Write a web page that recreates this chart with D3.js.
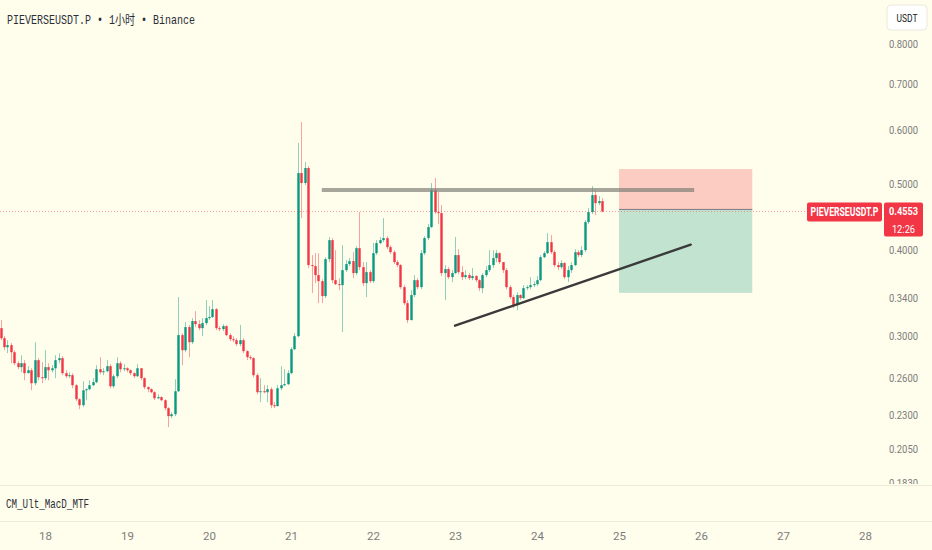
<!DOCTYPE html>
<html>
<head>
<meta charset="utf-8">
<script src="https://cdn.jsdelivr.net/npm/d3@7"></script>
<style>
  html, body { margin: 0; padding: 0; background: #fffdeb; }
  svg { display: block; }
</style>
</head>
<body>
<svg id="chart" width="932" height="550"></svg>
<script>
// 1h candles, first bar is the 17th 11:00, one bar per hour after that
const firstOpen = 0.3075;
const closes = [
  0.2973,0.2884,0.2904,0.2836,0.2733,0.2697,0.2733,0.2643,0.2669,0.2555,
  0.2761,0.2607,0.2599,0.2697,0.2669,0.2687,0.2761,0.2780,0.2643,0.2616,
  0.2625,0.2538,0.2421,0.2373,0.2495,0.2504,0.2538,0.2564,0.2678,0.2651,
  0.2660,0.2706,0.2529,0.2616,0.2733,0.2678,0.2687,0.2669,0.2643,0.2616,
  0.2687,0.2599,0.2521,0.2504,0.2479,0.2429,0.2438,0.2413,0.2349,0.2287,
  0.2302,0.2487,0.3004,0.2855,0.3086,0.2933,0.3149,0.3117,0.3075,0.3128,
  0.3181,0.3192,0.3278,0.3075,0.3065,0.3096,0.3004,0.2963,0.2953,0.2914,
  0.2953,0.2846,0.2789,0.2780,0.2625,0.2479,0.2487,0.2479,0.2504,0.2373,
  0.2365,0.2512,0.2538,0.2547,0.2643,0.2865,0.2993,0.5182,0.5011,0.5270,
  0.3802,0.3789,0.3676,0.3602,0.3425,0.3879,0.4135,0.3614,0.3566,0.3554,
  0.3738,0.3815,0.3853,0.3701,0.4025,0.3776,0.3578,0.3713,0.3602,0.3958,
  0.4094,0.4135,0.4163,0.4039,0.3971,0.3840,0.3802,0.3530,0.3345,0.3159,
  0.3437,0.3614,0.3530,0.3958,0.4163,0.4321,0.4893,0.4544,0.4529,0.3701,
  0.3751,0.3651,0.3701,0.3932,0.3713,0.3651,0.3676,0.3639,0.3664,0.3614,
  0.3518,0.3676,0.3738,0.3802,0.3892,0.3958,0.3840,0.3738,0.3530,0.3414,
  0.3323,0.3437,0.3402,0.3518,0.3530,0.3554,0.3566,0.3614,0.3905,0.3958,
  0.4107,0.3971,0.3802,0.3776,0.3828,0.3651,0.3738,0.3802,0.3971,0.3932,
  0.3998,0.4394,0.4544,0.4812,0.4684,0.4715,0.4553
];
const highs = [
  0.3159,0.2993,0.2953,0.2924,0.2855,0.2752,0.2808,0.2761,0.2706,0.2687,
  0.2933,0.2780,0.2743,0.2855,0.2733,0.2715,0.2808,0.2827,0.2799,0.2669,
  0.2651,0.2643,0.2547,0.2429,0.2572,0.2512,0.2581,0.2599,0.2715,0.2789,
  0.2687,0.2761,0.2724,0.2634,0.2789,0.2752,0.2724,0.2697,0.2678,0.2651,
  0.2724,0.2687,0.2607,0.2529,0.2512,0.2487,0.2462,0.2446,0.2421,0.2357,
  0.2318,0.2590,0.3414,0.3024,0.3138,0.3107,0.3181,0.3256,0.3159,0.3181,
  0.3379,0.3312,0.3379,0.3289,0.3096,0.3117,0.3107,0.3024,0.2993,0.2973,
  0.3107,0.2973,0.2855,0.2808,0.2789,0.2643,0.2599,0.2538,0.2538,0.2521,
  0.2397,0.2538,0.2706,0.2678,0.2669,0.2884,0.3024,0.5733,0.6153,0.5377,
  0.5306,0.3932,0.3958,0.3958,0.3626,0.3905,0.4178,0.4163,0.3998,0.3639,
  0.4066,0.3866,0.3892,0.3971,0.4052,0.4544,0.3840,0.3840,0.3738,0.4094,
  0.4135,0.4178,0.4453,0.4192,0.4066,0.3998,0.3866,0.3815,0.3554,0.3379,
  0.3494,0.3676,0.3639,0.3998,0.4192,0.4365,0.5011,0.5096,0.4861,0.4652,
  0.3802,0.3776,0.3738,0.4178,0.4012,0.3789,0.3738,0.3701,0.3764,0.3676,
  0.3626,0.3701,0.3789,0.3998,0.3998,0.3998,0.3971,0.3840,0.3764,0.3554,
  0.3437,0.3471,0.3448,0.3554,0.3554,0.3651,0.3602,0.3664,0.3932,0.3985,
  0.4234,0.4206,0.3998,0.3840,0.3866,0.3840,0.3789,0.3840,0.4012,0.3998,
  0.4052,0.4423,0.4605,0.4960,0.4893,0.4796,0.4763
];
const lows = [
  0.2953,0.2855,0.2827,0.2733,0.2715,0.2678,0.2651,0.2581,0.2643,0.2495,
  0.2538,0.2581,0.2555,0.2581,0.2581,0.2651,0.2599,0.2733,0.2625,0.2599,
  0.2599,0.2512,0.2405,0.2341,0.2357,0.2413,0.2495,0.2529,0.2555,0.2634,
  0.2625,0.2651,0.2512,0.2512,0.2599,0.2651,0.2660,0.2651,0.2625,0.2599,
  0.2607,0.2581,0.2504,0.2479,0.2470,0.2413,0.2421,0.2405,0.2333,0.2204,
  0.2271,0.2287,0.2479,0.2715,0.2836,0.2789,0.2914,0.3086,0.3054,0.2993,
  0.3107,0.3159,0.3181,0.3054,0.3044,0.3044,0.2993,0.2943,0.2933,0.2894,
  0.2894,0.2827,0.2761,0.2761,0.2607,0.2462,0.2397,0.2470,0.2397,0.2349,
  0.2349,0.2365,0.2495,0.2529,0.2538,0.2634,0.2855,0.2983,0.4453,0.4977,
  0.3764,0.3460,0.3578,0.3345,0.3345,0.3402,0.3840,0.3578,0.3554,0.3494,
  0.3034,0.3713,0.3789,0.3639,0.3676,0.3738,0.3542,0.3414,0.3578,0.3578,
  0.3932,0.4080,0.4107,0.4012,0.3945,0.3815,0.3776,0.3506,0.3323,0.3128,
  0.3159,0.3414,0.3506,0.3506,0.3932,0.4135,0.4306,0.4514,0.4365,0.3664,
  0.3379,0.3626,0.3590,0.3688,0.3688,0.3614,0.3626,0.3614,0.3614,0.3590,
  0.3483,0.3460,0.3651,0.3713,0.3764,0.3840,0.3815,0.3701,0.3506,0.3391,
  0.3289,0.3267,0.3379,0.3391,0.3494,0.3506,0.3530,0.3542,0.3602,0.3892,
  0.3945,0.3945,0.3776,0.3738,0.3751,0.3626,0.3590,0.3701,0.3789,0.3905,
  0.3905,0.3971,0.4365,0.4514,0.4499,0.4652,0.4540
];

const dayTicks = [18, 19, 20, 21, 22, 23, 24, 25, 26, 27, 28];
const priceTicks = [0.8, 0.7, 0.6, 0.5, 0.4, 0.34, 0.3, 0.26, 0.23, 0.205, 0.183];
const lastPrice = 0.4553;
const countdown = "12:26";

// drawings: [day, hour]
const resistPrice = 0.4893;
const resistFrom = [21, 9], resistTo = [25, 22];
const trendFrom = [23, 0, 0.3101], trendTo = [25, 21, 0.4073];
const boxFrom = [25, 0], boxTo = [26, 15];
const boxStop = 0.5252, boxEntry = 0.4585, boxTarget = 0.3463;

const upColor = "#089981", downColor = "#f23645";
const W = 932, H = 550, plotRight = 880, paneBottom = 485, indBottom = 521;
const axisFont = "'Liberation Sans Narrow', 'Roboto', sans-serif";

const day = (d, h) => new Date(Date.UTC(2025, 0, d, h || 0));
const firstBar = day(17, 11);

let x = d3.scaleUtc().domain([day(18), day(28)]).range([45, 865]);
let y = d3.scaleLog().domain([0.8, 0.4]).range([44, 250]);

let bars = closes.map((c, i) => ({
  t: d3.utcHour.offset(firstBar, i),
  o: i == 0 ? firstOpen : closes[i - 1],
  h: highs[i],
  l: lows[i],
  c: c
}));

let svg = d3.select("#chart");

let defs = svg.append("defs");
defs.append("clipPath").attr("id", "plotClip")
  .append("rect").attr("x", 0).attr("y", 0).attr("width", plotRight).attr("height", paneBottom);
defs.append("clipPath").attr("id", "axisClip")
  .append("rect").attr("x", plotRight).attr("y", 0).attr("width", W - plotRight).attr("height", paneBottom - 1);

svg.append("rect").attr("width", W).attr("height", H).attr("fill", "#fffdeb");

// pane separators
svg.append("line").attr("x1", 0).attr("x2", W).attr("y1", paneBottom + 0.5).attr("y2", paneBottom + 0.5)
  .attr("stroke", "#efebd6");
svg.append("line").attr("x1", 0).attr("x2", W).attr("y1", indBottom + 0.5).attr("y2", indBottom + 0.5)
  .attr("stroke", "#efebd6");

let plot = svg.append("g").attr("clip-path", "url(#plotClip)");

// long / short position box
let bx0 = x(day(boxFrom[0], boxFrom[1])), bx1 = x(day(boxTo[0], boxTo[1]));
plot.append("rect")
  .attr("x", bx0).attr("width", bx1 - bx0)
  .attr("y", y(boxStop)).attr("height", y(boxEntry) - y(boxStop))
  .attr("fill", "#f23645").attr("fill-opacity", 0.25);
plot.append("rect")
  .attr("x", bx0).attr("width", bx1 - bx0)
  .attr("y", y(boxEntry)).attr("height", y(boxTarget) - y(boxEntry))
  .attr("fill", "#089981").attr("fill-opacity", 0.25);
plot.append("line")
  .attr("x1", bx0).attr("x2", bx1).attr("y1", y(boxEntry)).attr("y2", y(boxEntry))
  .attr("stroke", "#787b86").attr("stroke-width", 1);

// last price line
plot.append("line")
  .attr("x1", 0).attr("x2", plotRight).attr("y1", y(lastPrice)).attr("y2", y(lastPrice))
  .attr("stroke", downColor).attr("stroke-opacity", 0.45).attr("stroke-dasharray", "1,2");

// candles
let candle = plot.append("g").selectAll("g").data(bars).join("g");
candle.append("line")
  .attr("x1", d => Math.round(x(d.t)) + 0.5).attr("x2", d => Math.round(x(d.t)) + 0.5)
  .attr("y1", d => y(d.h)).attr("y2", d => y(d.l))
  .attr("stroke", d => d.c >= d.o ? upColor : downColor)
  .attr("stroke-opacity", 0.45);
candle.append("rect")
  .attr("x", d => Math.round(x(d.t)) - 0.7)
  .attr("width", 2.4)
  .attr("y", d => y(Math.max(d.o, d.c)))
  .attr("height", d => Math.max(1, Math.abs(y(d.o) - y(d.c))))
  .attr("fill", d => d.c >= d.o ? upColor : downColor);

// resistance line
plot.append("line")
  .attr("x1", x(day(resistFrom[0], resistFrom[1]))).attr("x2", x(day(resistTo[0], resistTo[1])))
  .attr("y1", y(resistPrice)).attr("y2", y(resistPrice))
  .attr("stroke", "#808078").attr("stroke-opacity", 0.7).attr("stroke-width", 4);

// rising trend line
plot.append("line")
  .attr("x1", x(day(trendFrom[0], trendFrom[1]))).attr("y1", y(trendFrom[2]))
  .attr("x2", x(day(trendTo[0], trendTo[1]))).attr("y2", y(trendTo[2]))
  .attr("stroke", "#3a3a3a").attr("stroke-width", 2.4).attr("stroke-linecap", "round");

// price axis
let yAxis = svg.append("g")
  .attr("clip-path", "url(#axisClip)")
  .append("g")
  .attr("transform", "translate(918,0)")
  .call(d3.axisRight(y).tickValues(priceTicks).tickFormat(d3.format(".4f")).tickSize(0));
yAxis.select(".domain").remove();
yAxis.selectAll("text")
  .attr("x", 0).attr("text-anchor", "end")
  .attr("fill", "#7c7c7c")
  .attr("textLength", 29).attr("lengthAdjust", "spacingAndGlyphs")
  .style("font-family", axisFont)
  .style("font-size", "11.5px");

// time axis
let xAxis = svg.append("g")
  .attr("transform", "translate(0," + (indBottom + 8) + ")")
  .call(d3.axisBottom(x).tickValues(dayTicks.map(d => day(d))).tickFormat(d3.utcFormat("%-d")).tickSize(0));
xAxis.select(".domain").remove();
xAxis.selectAll("text")
  .attr("fill", "#7c7c7c")
  .style("font-family", axisFont)
  .style("font-size", "11.5px");

// currency badge
svg.append("rect").attr("x", 887).attr("y", 5).attr("width", 40).attr("height", 25).attr("rx", 4)
  .attr("fill", "#ffffff").attr("stroke", "#ece9dc");
svg.append("text").attr("x", 907).attr("y", 22).attr("text-anchor", "middle")
  .attr("fill", "#131722")
  .attr("textLength", 21).attr("lengthAdjust", "spacingAndGlyphs")
  .style("font-family", axisFont).style("font-size", "11.5px")
  .text("USDT");

// last price tags
let ly = y(lastPrice);
svg.append("rect").attr("x", 807).attr("y", ly - 9).attr("width", 75).attr("height", 19).attr("rx", 2)
  .attr("fill", downColor);
// squeeze the symbol name with a transform so its box really fits the tag
svg.append("text")
  .attr("transform", "translate(844.5," + (ly + 4.5) + ") scale(0.72,1)")
  .attr("text-anchor", "middle")
  .attr("fill", "#ffffff")
  .style("font-family", axisFont).style("font-size", "12px")
  .style("font-weight", "bold")
  .text("PIEVERSEUSDT.P");
svg.append("rect").attr("x", 884).attr("y", ly - 9).attr("width", 39).attr("height", 34).attr("rx", 2)
  .attr("fill", downColor);
svg.append("text")
  .attr("transform", "translate(903.5," + (ly + 3) + ") scale(0.8,1)")
  .attr("text-anchor", "middle")
  .attr("fill", "#ffffff")
  .style("font-family", axisFont).style("font-size", "11.5px")
  .style("font-weight", "bold")
  .text(d3.format(".4f")(lastPrice));
svg.append("text")
  .attr("transform", "translate(903.5," + (ly + 21) + ") scale(0.85,1)")
  .attr("text-anchor", "middle")
  .attr("fill", "#ffffff")
  .style("font-family", axisFont).style("font-size", "11px")
  .text(countdown);

// titles
svg.append("text").attr("x", 7).attr("y", 24)
  .attr("fill", "#2a2e39")
  .attr("textLength", 188).attr("lengthAdjust", "spacingAndGlyphs")
  .style("font-family", "'Liberation Mono', 'Noto Sans CJK SC', monospace").style("font-size", "13px")
  .text("PIEVERSEUSDT.P • 1小时 • Binance");
svg.append("text").attr("x", 6).attr("y", 508)
  .attr("fill", "#2a2e39")
  .attr("textLength", 83).attr("lengthAdjust", "spacingAndGlyphs")
  .style("font-family", "'Liberation Mono', monospace").style("font-size", "13px")
  .text("CM_Ult_MacD_MTF");
</script>
</body>
</html>
